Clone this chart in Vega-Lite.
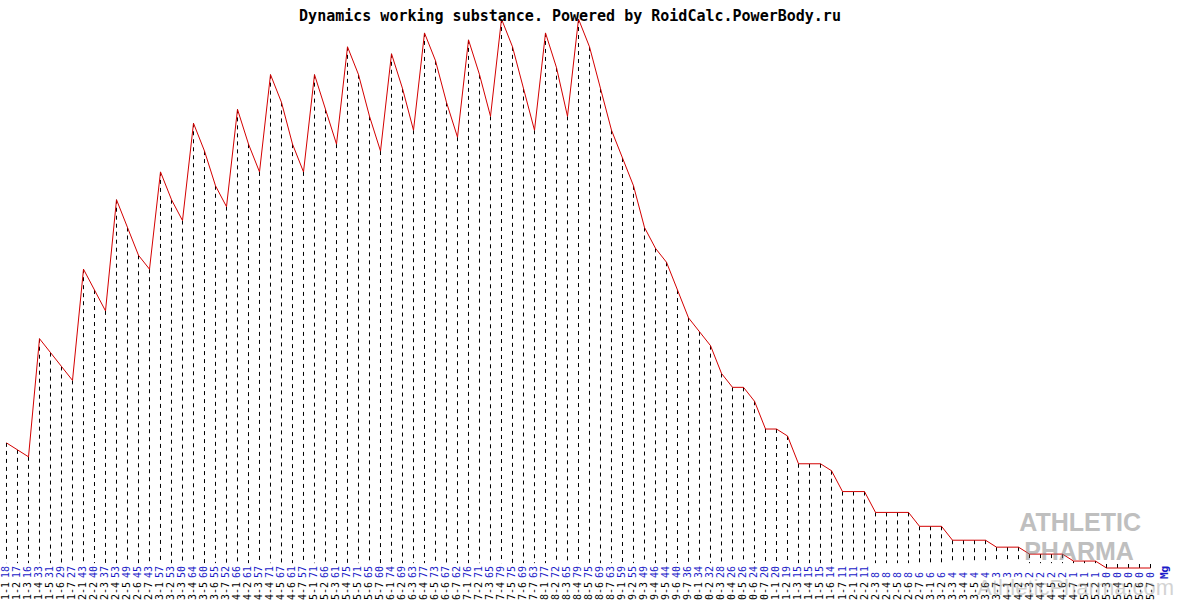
{
  "$schema": "https://vega.github.io/schema/vega-lite/v6.json",
  "width": 1200,
  "height": 600,
  "padding": 0,
  "autosize": {"type": "none"},
  "background": "white",
  "config": {"view": {"stroke": null}},
  "title": {
    "text": "Dynamics working substance. Powered by RoidCalc.PowerBody.ru",
    "font": "DejaVu Sans Mono",
    "fontSize": 15,
    "fontWeight": "bold",
    "color": "black",
    "anchor": "middle",
    "dx": -30,
    "dy": 28
  },
  "datasets": {
    "dyn": [
      {"i":0,"d":"1-1","v":18},{"i":1,"d":"1-2","v":17},{"i":2,"d":"1-3","v":16},{"i":3,"d":"1-4","v":33},{"i":4,"d":"1-5","v":31},{"i":5,"d":"1-6","v":29},{"i":6,"d":"1-7","v":27},
      {"i":7,"d":"2-1","v":43},{"i":8,"d":"2-2","v":40},{"i":9,"d":"2-3","v":37},{"i":10,"d":"2-4","v":53},{"i":11,"d":"2-5","v":49},{"i":12,"d":"2-6","v":45},{"i":13,"d":"2-7","v":43},
      {"i":14,"d":"3-1","v":57},{"i":15,"d":"3-2","v":53},{"i":16,"d":"3-3","v":50},{"i":17,"d":"3-4","v":64},{"i":18,"d":"3-5","v":60},{"i":19,"d":"3-6","v":55},{"i":20,"d":"3-7","v":52},
      {"i":21,"d":"4-1","v":66},{"i":22,"d":"4-2","v":61},{"i":23,"d":"4-3","v":57},{"i":24,"d":"4-4","v":71},{"i":25,"d":"4-5","v":67},{"i":26,"d":"4-6","v":61},{"i":27,"d":"4-7","v":57},
      {"i":28,"d":"5-1","v":71},{"i":29,"d":"5-2","v":66},{"i":30,"d":"5-3","v":61},{"i":31,"d":"5-4","v":75},{"i":32,"d":"5-5","v":71},{"i":33,"d":"5-6","v":65},{"i":34,"d":"5-7","v":60},
      {"i":35,"d":"6-1","v":74},{"i":36,"d":"6-2","v":69},{"i":37,"d":"6-3","v":63},{"i":38,"d":"6-4","v":77},{"i":39,"d":"6-5","v":73},{"i":40,"d":"6-6","v":67},{"i":41,"d":"6-7","v":62},
      {"i":42,"d":"7-1","v":76},{"i":43,"d":"7-2","v":71},{"i":44,"d":"7-3","v":65},{"i":45,"d":"7-4","v":79},{"i":46,"d":"7-5","v":75},{"i":47,"d":"7-6","v":69},{"i":48,"d":"7-7","v":63},
      {"i":49,"d":"8-1","v":77},{"i":50,"d":"8-2","v":72},{"i":51,"d":"8-3","v":65},{"i":52,"d":"8-4","v":79},{"i":53,"d":"8-5","v":75},{"i":54,"d":"8-6","v":69},{"i":55,"d":"8-7","v":63},
      {"i":56,"d":"9-1","v":59},{"i":57,"d":"9-2","v":55},{"i":58,"d":"9-3","v":49},{"i":59,"d":"9-4","v":46},{"i":60,"d":"9-5","v":44},{"i":61,"d":"9-6","v":40},{"i":62,"d":"9-7","v":36},
      {"i":63,"d":"0-1","v":34},{"i":64,"d":"0-2","v":32},{"i":65,"d":"0-3","v":28},{"i":66,"d":"0-4","v":26},{"i":67,"d":"0-5","v":26},{"i":68,"d":"0-6","v":24},{"i":69,"d":"0-7","v":20},
      {"i":70,"d":"1-1","v":20},{"i":71,"d":"1-2","v":19},{"i":72,"d":"1-3","v":15},{"i":73,"d":"1-4","v":15},{"i":74,"d":"1-5","v":15},{"i":75,"d":"1-6","v":14},{"i":76,"d":"1-7","v":11},
      {"i":77,"d":"2-1","v":11},{"i":78,"d":"2-2","v":11},{"i":79,"d":"2-3","v":8},{"i":80,"d":"2-4","v":8},{"i":81,"d":"2-5","v":8},{"i":82,"d":"2-6","v":8},{"i":83,"d":"2-7","v":6},
      {"i":84,"d":"3-1","v":6},{"i":85,"d":"3-2","v":6},{"i":86,"d":"3-3","v":4},{"i":87,"d":"3-4","v":4},{"i":88,"d":"3-5","v":4},{"i":89,"d":"3-6","v":4},{"i":90,"d":"3-7","v":3},
      {"i":91,"d":"4-1","v":3},{"i":92,"d":"4-2","v":3},{"i":93,"d":"4-3","v":2},{"i":94,"d":"4-4","v":2},{"i":95,"d":"4-5","v":2},{"i":96,"d":"4-6","v":2},{"i":97,"d":"4-7","v":1},
      {"i":98,"d":"5-1","v":1},{"i":99,"d":"5-2","v":1},{"i":100,"d":"5-3","v":0},{"i":101,"d":"5-4","v":0},{"i":102,"d":"5-5","v":0},{"i":103,"d":"5-6","v":0},{"i":104,"d":"5-7","v":0}
    ],
    "one": [{}]
  },
  "layer": [
    {
      "data": {"name": "dyn"},
      "mark": {"type": "rule", "color": "black", "strokeWidth": 1, "strokeDash": [4, 4]},
      "encoding": {
        "x": {"field": "i", "type": "quantitative", "axis": null, "scale": {"domain": [-0.5909, 108.5], "nice": false, "zero": false}},
        "y": {"field": "v", "type": "quantitative", "axis": null, "scale": {"domain": [-4.605, 81.74], "nice": false, "zero": false}},
        "y2": {"datum": 0.7}
      }
    },
    {
      "data": {"name": "dyn"},
      "mark": {"type": "line", "color": "#d40000", "strokeWidth": 1},
      "encoding": {
        "x": {"field": "i", "type": "quantitative"},
        "y": {"field": "v", "type": "quantitative"}
      }
    },
    {
      "data": {"name": "dyn"},
      "mark": {"type": "text", "angle": 270, "align": "right", "baseline": "middle", "dx": -14, "font": "DejaVu Sans Mono", "fontSize": 10, "color": "black"},
      "encoding": {
        "x": {"field": "i", "type": "quantitative"},
        "y": {"datum": 0},
        "text": {"field": "d", "type": "nominal"}
      }
    },
    {
      "data": {"name": "dyn"},
      "mark": {"type": "text", "angle": 270, "align": "left", "baseline": "middle", "dx": -10, "font": "DejaVu Sans Mono", "fontSize": 10, "color": "#1a1ac8"},
      "encoding": {
        "x": {"field": "i", "type": "quantitative"},
        "y": {"datum": 0},
        "text": {"field": "v", "type": "quantitative"}
      }
    },
    {
      "data": {"name": "one"},
      "mark": {"type": "text", "text": "Mg", "angle": 270, "align": "left", "baseline": "middle", "dx": -11, "font": "DejaVu Sans Mono", "fontSize": 11, "fontWeight": "bold", "color": "#1a1ac8"},
      "encoding": {
        "x": {"datum": 105.3},
        "y": {"datum": 0}
      }
    },
    {
      "data": {"name": "one"},
      "mark": {"type": "text", "text": "ATHLETIC", "align": "center", "baseline": "middle", "font": "Liberation Sans", "fontSize": 25, "fontWeight": "bold", "color": "#808080", "opacity": 0.5},
      "encoding": {
        "x": {"datum": 97.6},
        "y": {"datum": 6.5}
      }
    },
    {
      "data": {"name": "one"},
      "mark": {"type": "text", "text": "PHARMA", "align": "center", "baseline": "middle", "font": "Liberation Sans", "fontSize": 25, "fontWeight": "bold", "color": "#808080", "opacity": 0.5},
      "encoding": {
        "x": {"datum": 97.5},
        "y": {"datum": 2.3}
      }
    },
    {
      "data": {"name": "one"},
      "mark": {"type": "text", "text": "AthleticPharma.com", "align": "center", "baseline": "middle", "font": "Liberation Sans", "fontSize": 22, "color": "#a0a0a0", "opacity": 0.45},
      "encoding": {
        "x": {"datum": 97.2},
        "y": {"datum": -2.9}
      }
    }
  ]
}
